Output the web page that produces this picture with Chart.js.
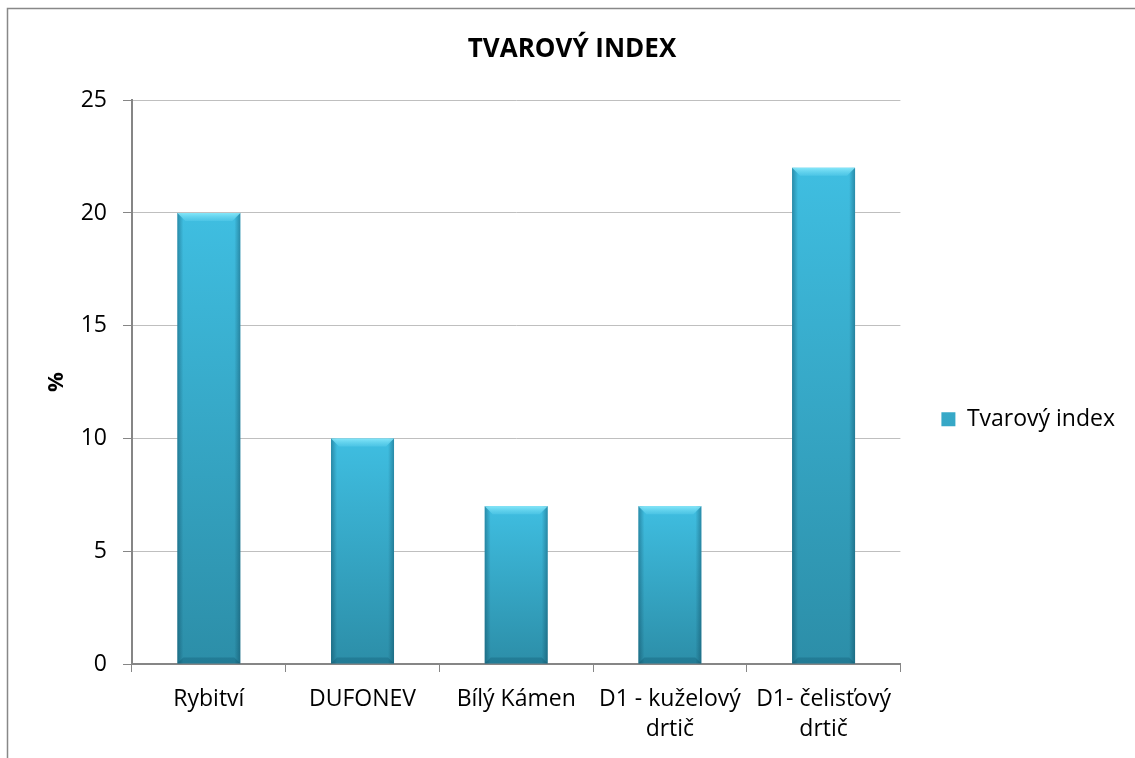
<!DOCTYPE html>
<html>
<head>
<meta charset="utf-8">
<title>Tvarový index</title>
<script src="https://cdn.jsdelivr.net/npm/chart.js@4.4.1/dist/chart.umd.min.js"></script>
<style>
  html, body { margin: 0; padding: 0; background: #fff; }
  #wrap { width: 1135px; height: 758px; }
</style>
</head>
<body>
<div id="wrap"><canvas id="myChart" width="1135" height="758"></canvas></div>
<script>
// data
const categories = ['Rybitví', 'DUFONEV', 'Bílý Kámen', ['D1 - kuželový', 'drtič'], ['D1- čelisťový', 'drtič']];
const tvarovyIndex = [20, 10, 7, 7, 22];
const seriesName = 'Tvarový index';
const yTicks = [0, 5, 10, 15, 20, 25];

Chart.defaults.font.family = "'Open Sans', sans-serif";
Chart.defaults.color = '#000';

// per-bar vertical gradient, light at the top, darker at the base
function barFill(c) {
  const chart = c.chart;
  if (!chart.chartArea || !chart.scales.y || c.raw === undefined) return '#36a9c9';
  const y = chart.scales.y;
  const top = y.getPixelForValue(c.raw);
  const bot = y.getPixelForValue(0);
  const g = chart.ctx.createLinearGradient(0, top, 0, bot);
  g.addColorStop(0, '#3fbee1');
  g.addColorStop(1, '#2c8ea8');
  return g;
}

// outer frame like the Excel chart area
const frame = {
  id: 'frame',
  beforeDraw(chart) {
    const ctx = chart.ctx;
    ctx.save();
    ctx.fillStyle = '#fff';
    ctx.fillRect(0, 0, chart.width, chart.height);
    ctx.strokeStyle = '#888';
    ctx.lineWidth = 1.5;
    ctx.strokeRect(7.5, 8.5, chart.width + 20, chart.height + 20);
    ctx.restore();
  },
  // centre the title over the framed area, not the area left of the legend padding
  afterLayout(chart) {
    chart.titleBlock.left = 9;
    chart.titleBlock.right = chart.width;
  }
};

// bevel look on each bar, using the bar elements' own geometry
const bevel = {
  id: 'bevel',
  afterDatasetsDraw(chart) {
    const ctx = chart.ctx;
    chart.getDatasetMeta(0).data.forEach(bar => {
      const p = bar.getProps(['x', 'y', 'base', 'width'], true);
      const l = p.x - p.width / 2, r = p.x + p.width / 2, e = 6, t = 8;
      ctx.save();
      let g = ctx.createLinearGradient(l, 0, l + e, 0);
      g.addColorStop(0, 'rgba(0,45,65,0.35)');
      g.addColorStop(1, 'rgba(0,45,65,0)');
      ctx.fillStyle = g;
      ctx.fillRect(l, p.y, e, p.base - p.y);
      g = ctx.createLinearGradient(r, 0, r - e, 0);
      g.addColorStop(0, 'rgba(0,45,65,0.35)');
      g.addColorStop(1, 'rgba(0,45,65,0)');
      ctx.fillStyle = g;
      ctx.fillRect(r - e, p.y, e, p.base - p.y);
      ctx.beginPath();
      ctx.moveTo(l, p.y); ctx.lineTo(r, p.y); ctx.lineTo(r - t, p.y + t); ctx.lineTo(l + t, p.y + t);
      ctx.closePath();
      g = ctx.createLinearGradient(0, p.y, 0, p.y + t);
      g.addColorStop(0, 'rgba(140,235,252,0.9)');
      g.addColorStop(1, 'rgba(90,205,235,0.5)');
      ctx.fillStyle = g;
      ctx.fill();
      ctx.beginPath();
      ctx.moveTo(l, p.base); ctx.lineTo(r, p.base); ctx.lineTo(r - e, p.base - e); ctx.lineTo(l + e, p.base - e);
      ctx.closePath();
      ctx.fillStyle = 'rgba(0,60,80,0.22)';
      ctx.fill();
      ctx.restore();
    });
  }
};

const ctx = document.getElementById('myChart').getContext('2d');

const chart = new Chart(ctx, {
  type: 'bar',
  data: {
    labels: categories,
    datasets: [{
      label: seriesName,
      data: tvarovyIndex,
      backgroundColor: barFill,
      borderWidth: 0,
      barPercentage: 0.41,
      categoryPercentage: 1
    }]
  },
  plugins: [frame, bevel],
  options: {
    responsive: false,
    animation: false,
    layout: { padding: { left: 0, right: 10, top: 0, bottom: 0 } },
    plugins: {
      title: {
        display: true,
        text: 'TVAROVÝ INDEX',
        font: { size: 26, weight: 'bold' },
        color: '#000',
        padding: { top: 34, bottom: 35 }
      },
      legend: {
        position: 'right',
        title: { display: true, text: ' ', padding: 33 },
        labels: { boxWidth: 14, boxHeight: 14, padding: 41, font: { size: 23 }, color: '#000' }
      },
      tooltip: { enabled: false }
    },
    scales: {
      x: {
        grid: { display: true, drawOnChartArea: false, drawTicks: true, tickLength: 8, color: '#868686', offset: true },
        border: { display: true, color: '#868686', width: 2 },
        ticks: { font: { size: 23, lineHeight: 1.3 }, padding: 13, maxRotation: 0, autoSkip: false },
        afterFit: s => { s.height = 94; }
      },
      y: {
        min: yTicks[0],
        max: yTicks[yTicks.length - 1],
        ticks: { stepSize: yTicks[1] - yTicks[0], font: { size: 23 }, padding: 16 },
        grid: { color: '#bfbfbf', tickColor: '#868686', tickLength: 9, lineWidth: 1 },
        border: { color: '#868686', width: 2 },
        title: { display: true, text: '%', font: { size: 22, weight: 'bold' }, padding: { top: 44, bottom: 0 } },
        afterFit: s => { s.width = 132; }
      }
    }
  }
});
</script>
</body>
</html>
